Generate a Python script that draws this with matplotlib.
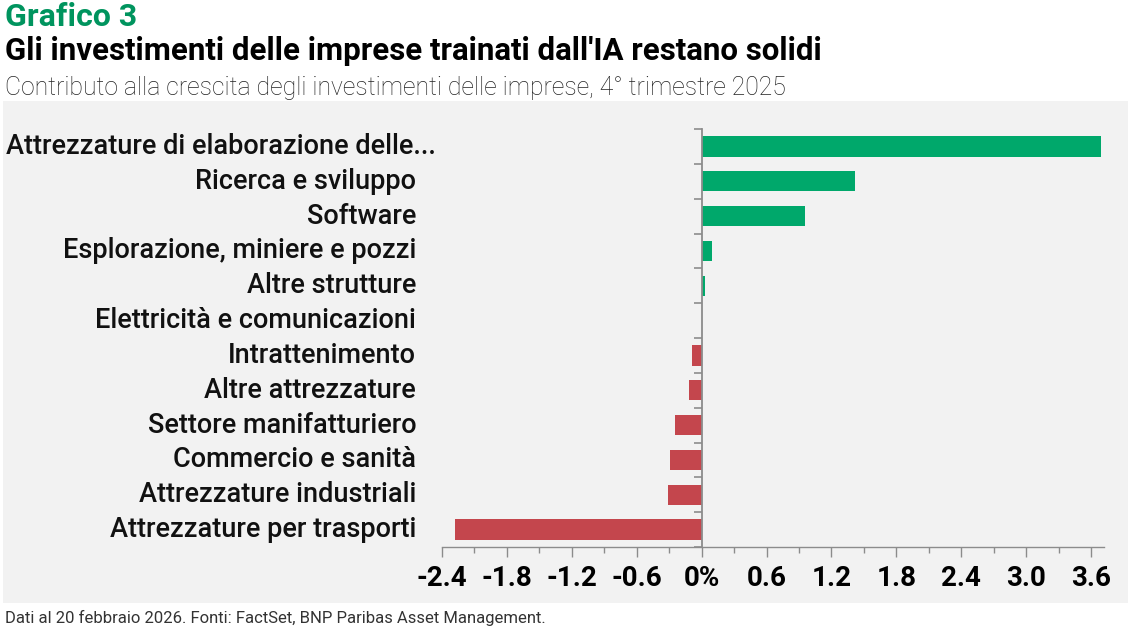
import matplotlib
matplotlib.use("Agg")
import matplotlib.pyplot as plt
import matplotlib.transforms as mtransforms
from matplotlib.patches import Rectangle
import numpy as np

categories = [
    "Attrezzature di elaborazione delle...",
    "Ricerca e sviluppo",
    "Software",
    "Esplorazione, miniere e pozzi",
    "Altre strutture",
    "Elettricità e comunicazioni",
    "Intrattenimento",
    "Altre attrezzature",
    "Settore manifatturiero",
    "Commercio e sanità",
    "Attrezzature industriali",
    "Attrezzature per trasporti",
]
values = [3.69, 1.42, 0.96, 0.10, 0.03, 0.0, -0.086, -0.12, -0.25, -0.29, -0.31, -2.28]
xticks = [-2.4, -1.8, -1.2, -0.6, 0.0, 0.6, 1.2, 1.8, 2.4, 3.0, 3.6]
xtick_labels = ["-2.4", "-1.8", "-1.2", "-0.6", "0%", "0.6", "1.2", "1.8", "2.4", "3.0", "3.6"]

GREEN = "#00a86b"
RED = "#c4464d"
GRAY_BG = "#f2f2f2"
AXIS = "#8c8c8c"

font = ["Roboto", "DejaVu Sans"]

fig = plt.figure(figsize=(11.31, 6.30), dpi=100)
fig.patch.set_facecolor("white")
fig.patches.append(Rectangle((3 / 1131, 27 / 630), 1125 / 1131, 502 / 630,
                             transform=fig.transFigure, facecolor=GRAY_BG,
                             edgecolor="none", zorder=-5))

ax = fig.add_axes([442 / 1131, (630 - 547) / 630, 662 / 1131, 418 / 630])
ax.set_facecolor("none")

y = np.arange(len(categories))
colors = [GREEN if v >= 0 else RED for v in values]
ax.barh(y, values, height=0.58, color=colors, zorder=2)

ax.set_xlim(-2.4, 3.72)
ax.set_ylim(len(categories) - 0.5, -0.5)

for s in ["top", "right"]:
    ax.spines[s].set_visible(False)
ax.spines["left"].set_position(("data", 0))
ax.spines["left"].set_color(AXIS)
ax.spines["left"].set_linewidth(1.3)
ax.spines["left"].set_zorder(3)
ax.spines["bottom"].set_color(AXIS)
ax.spines["bottom"].set_linewidth(1.0)

ax.set_yticks(np.arange(-0.5, len(categories), 1.0))
ax.set_yticklabels([])
ax.tick_params(axis="y", length=6, width=1.2, color=AXIS, direction="out")

ax.set_xticks(xticks)
ax.set_xticklabels(xtick_labels, fontfamily=font, fontweight="bold", fontsize=20)
ax.set_xticks(np.arange(-2.1, 3.7, 0.6), minor=True)
ax.tick_params(axis="x", which="major", length=7, width=1.0, color=AXIS, pad=6)
ax.tick_params(axis="x", which="minor", length=4, width=1.0, color=AXIS)

trans = mtransforms.blended_transform_factory(ax.transAxes, ax.transData)
for i, (yi, cat) in enumerate(zip(y, categories)):
    xpos = -0.009 if i == 0 else -0.039
    ax.text(xpos, yi, cat, transform=trans, ha="right", va="center",
            fontsize=19.5, fontfamily=font, fontweight="medium", color="#111111")

fig.text(5 / 1131, 1 - 17 / 630, "Grafico 3", fontsize=23, fontweight="bold",
         color="#00945e", fontfamily=font, va="center", ha="left")
fig.text(5 / 1131, 1 - 51 / 630, "Gli investimenti delle imprese trainati dall'IA restano solidi",
         fontsize=22.5, fontweight="bold", color="black", fontfamily=font,
         va="center", ha="left")
fig.text(5 / 1131, 1 - 88 / 630, "Contributo alla crescita degli investimenti delle imprese, 4° trimestre 2025",
         fontsize=17.8, fontweight="light", color="#222222", fontfamily=font,
         va="center", ha="left")
fig.text(5 / 1131, 1 - 618 / 630, "Dati al 20 febbraio 2026. Fonti: FactSet, BNP Paribas Asset Management.",
         fontsize=12, color="#333333", fontfamily=font, va="center", ha="left")

fig.savefig("out.png", dpi=100)
